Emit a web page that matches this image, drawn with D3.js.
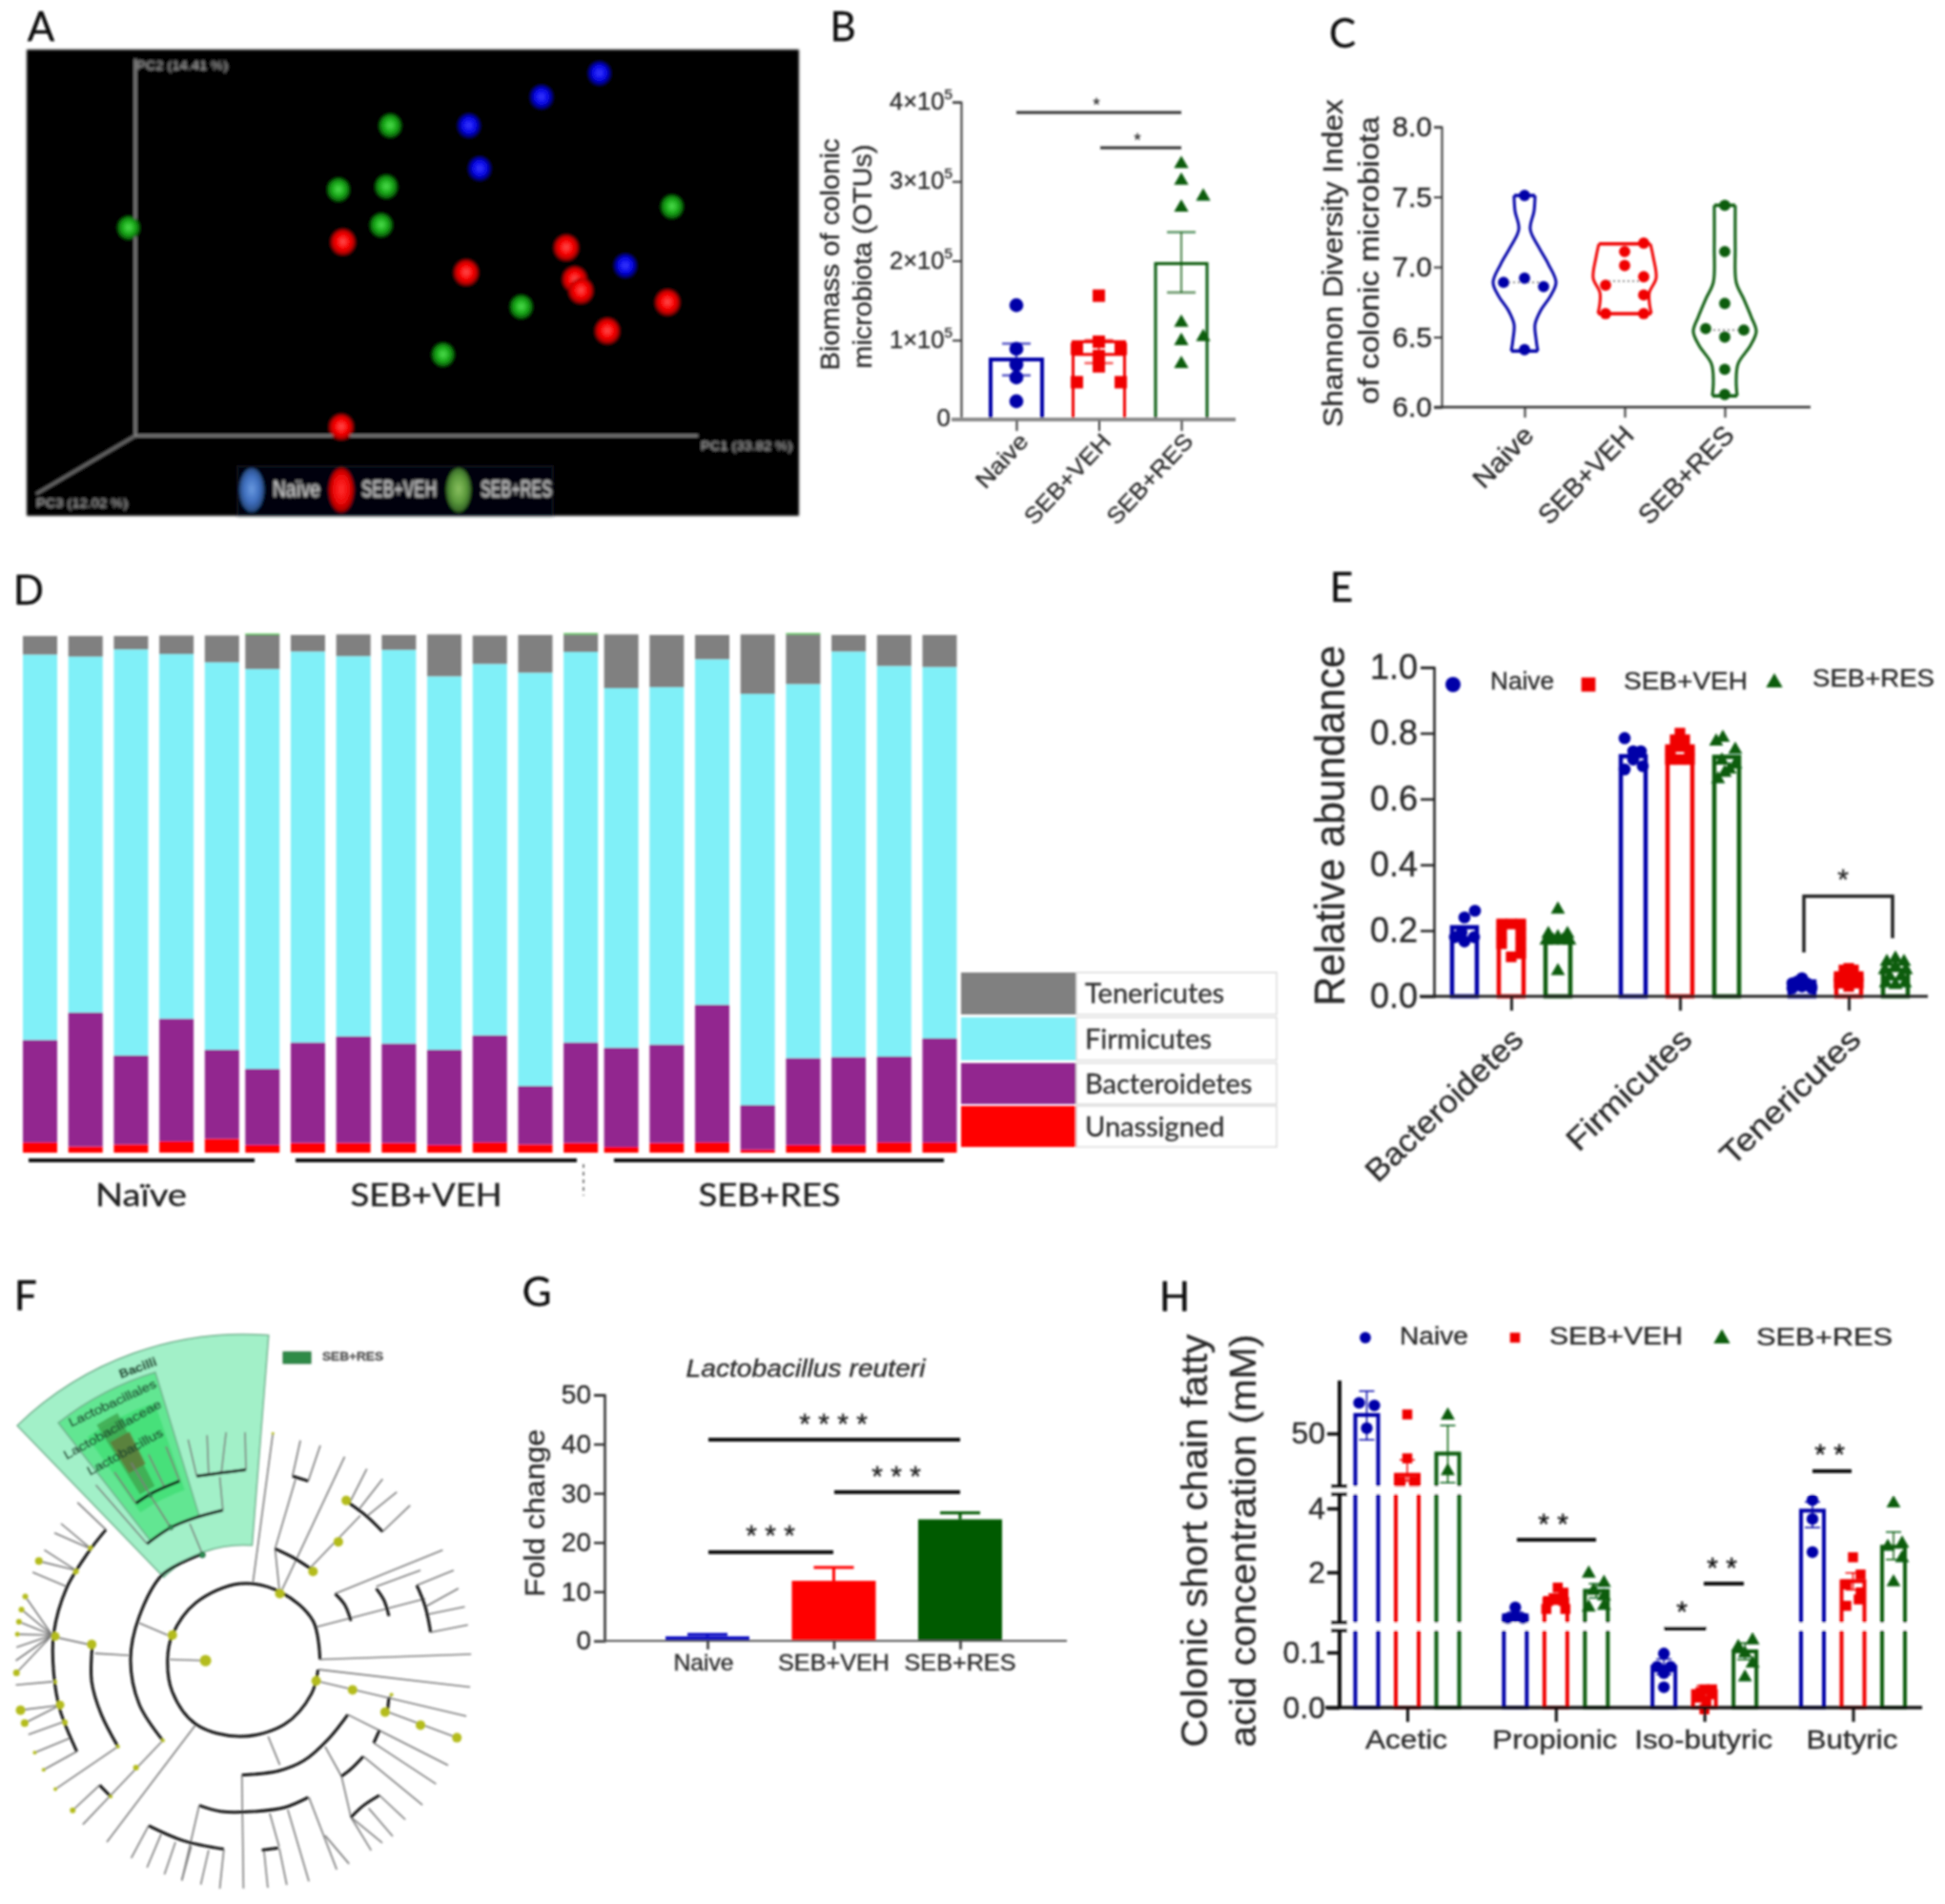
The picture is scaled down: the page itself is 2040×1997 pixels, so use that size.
<!DOCTYPE html>
<html><head><meta charset="utf-8">
<script src="https://d3js.org/d3.v7.min.js"></script>
<style>html,body{margin:0;padding:0;background:#fff}svg{display:block}text{font-family:"Liberation Sans",Arial,sans-serif;fill:#2b2b2b;stroke:#2b2b2b;stroke-width:.35px}</style>
</head><body><svg id="fig" width="2040" height="1997" xmlns="http://www.w3.org/2000/svg"></svg>
<script>
// ---------- shared ----------
const groups = ["Naive","SEB+VEH","SEB+RES"];
const groupColors = ["#0000a8","#f00000","#0b5d0f"];

// ---------- panel A: PCoA (axis percent units) ----------
const pcaBlue  = [[82.5,96.2],[72.2,89.9],[59.3,82.3],[61.2,70.9],[87.1,45.1]];
const pcaGreen = [[45.3,82.3],[36.1,65.3],[44.6,66.1],[43.7,55.9],[95.4,60.8],[-1.2,55.2],[68.6,34.2],[54.7,21.5]];
const pcaRed   = [[36.9,51.4],[76.6,49.9],[58.8,43.3],[78.1,41.5],[79.2,38.5],[94.6,35.4],[83.9,27.8],[36.6,2.3]];
const pcaLegend = ["Naïve","SEB+VEH","SEB+RES"];

// ---------- panel B ----------
const bMeans = [0.756,0.98,1.965];
const bErrs  = [[0.556,0.956],[0.71,1.0],[1.60,2.36]];
const bMid   = [0.756,0.82,1.965];
const bPoints = [
  [[0,1.44],[0,0.89],[0,0.69],[0,0.53],[0,0.23]],
  [[0,1.56],[0,0.98],[-23,0.89],[23,0.89],[0,0.80],[0,0.67],[23,0.47],[-23,0.47]],
  [[0,3.22],[0,3.01],[23,2.81],[0,2.67],[0,1.22],[23,1.04],[0,0.99],[0,0.70]]];

// ---------- panel C ----------
const cViolins = [
 [[7.51,11],[7.40,10],[7.27,6],[7.14,15],[7.02,25],[6.89,33],[6.79,27],[6.69,17],[6.59,11],[6.49,12],[6.40,14]],
 [[7.165,27],[7.07,30],[6.92,33],[6.82,26],[6.74,26],[6.667,28]],
 [[7.44,11],[7.14,11],[6.89,12],[6.77,20],[6.64,28],[6.54,33],[6.44,27],[6.31,14],[6.19,12],[6.08,13]]];
const cMedians = [6.89,6.90,6.55];
const cPoints = [
 [[0,7.51],[0,6.92],[-22,6.89],[20,6.86],[0,6.41]],
 [[20,7.17],[0,7.11],[0,7.01],[20,6.93],[-20,6.87],[20,6.80],[-20,6.667],[20,6.667]],
 [[0,7.44],[0,7.11],[0,6.74],[-20,6.56],[20,6.55],[0,6.50],[0,6.27],[0,6.09]]];

// ---------- panel D ----------
const taxa = ["Unassigned","Bacteroidetes","Firmicutes","Tenericutes","Trace"];
const taxaColors = ["#ff0000","#92278f","#80f0f8","#808080","#3fbf3f"];
const dSlots = [0,1,2,3,4,4.89,5.89,6.89,7.89,8.89,9.89,10.89,11.89,12.78,13.78,14.78,15.78,16.78,17.78,18.78,19.78];
const dUnassigned = [2.0,1.2,1.6,2.2,2.7,1.5,1.9,1.9,1.9,1.5,2.0,1.6,1.9,1.1,1.9,2.0,0.6,1.5,1.5,2.0,2.0];
const dBacteroidetes = [19.8,25.9,17.2,23.7,17.2,14.7,19.4,20.6,19.2,18.4,20.7,11.3,19.4,19.2,19.0,26.6,8.6,16.8,17.0,16.6,20.1];
const dFirmicutes = [74.4,68.7,78.4,70.4,74.8,77.2,75.5,73.4,76.0,72.1,71.7,79.8,75.4,69.4,69.0,66.7,79.4,72.2,78.3,75.4,71.7];
const dTenericutes = [3.6,4.0,2.6,3.6,5.2,6.6,3.2,4.2,2.9,8.1,5.5,7.3,3.4,10.4,10.1,4.7,11.5,9.6,3.2,6.0,6.2];
const dTrace = [0,0,0,0,0,0.25,0,0,0,0,0,0,0.25,0,0,0,0,0.25,0,0,0];
const dGroupLabels = ["Naïve","SEB+VEH","SEB+RES"];

// ---------- panel E ----------
const eCats = ["Bacteroidetes","Firmicutes","Tenericutes"];
const eMeans = [[0.21,0.224,0.178],[0.73,0.75,0.728],[0.045,0.063,0.08]];
const ePoints = [
 [[[11,.26],[0,.24],[-10,.18],[0,.167],[10,.18],[-3,.195]],
  [[-10,.22],[0,.22],[10,.22],[-10,.19],[10,.19],[-10,.16],[10,.16],[0,.12],[10,.13]],
  [[0,.264],[0,.077],[-10,.19],[0,.18],[10,.19],[-5,.17],[5,.17],[-12,.17],[12,.17]]],
 [[[-9,.785],[8,.745],[0,.745],[-9,.69],[10,.70],[0,.72]],
  [[0,.8],[-5,.78],[5,.78],[-10,.75],[10,.75],[0,.76],[-10,.72],[10,.72],[0,.72]],
  [[-4,.786],[-11,.775],[9,.75],[-5,.717],[9,.705],[-2,.68],[-9,.66],[3,.69]]],
 [[[0,.055],[-10,.04],[-5,.045],[5,.04],[10,.03],[0,.03],[-10,.025],[10,.025]],
  [[0,.085],[-5,.08],[5,.08],[-10,.06],[10,.06],[0,.06],[-10,.04],[10,.04],[0,.03]],
  [[0,.115],[-9,.105],[9,.105],[-11,.08],[0,.09],[11,.08],[-6,.06],[6,.06],[-10,.04],[10,.04],[0,.035]]]];

// ---------- panel F: cladogram, sketched in tree-space units ----------
const fWedges = [[120,341,-44,4.5,"#a2f0c8"],[158,315,-38,-17,"#62e692"],[188,285,-35,-19,"#46e07a"],[204,290,-32,-27,"#3fa850"],[229,267,-31.5,-26.5,"#5f7a38"]];
const fThick = [
 [[1012,965],[990,870],[890,800],[760,778],[620,825],[545,905],[530,965],[545,1045],[620,1125],[760,1155],[900,1125],[985,1050],[1006,990]],
 [[515,1165],[440,1075],[413,965],[440,860],[515,755],[640,705]],
 [[465,680],[540,640],[620,615],[705,597]],
 [[430,580],[480,555],[568,525]],
 [[622,513],[700,505],[778,497]],
 [[373,1180],[320,1100],[290,1020],[292,930]],
 [[335,645],[280,700],[210,790],[170,900],[170,1000],[190,1090],[243,1192]],
 [[870,692],[930,715],[980,740]],
 [[925,513],[975,525]],
 [[1105,580],[1160,612],[1210,650]],
 [[1060,803],[1090,830],[1110,870]],
 [[1190,790],[1215,820],[1230,858]],
 [[1318,782],[1345,835],[1362,898]],
 [[1100,1101],[1040,1160],[960,1215],[880,1240],[765,1250]],
 [[1182,1171],[1200,1140]],
 [[1080,1253],[1110,1235],[1149,1204]],
 [[1110,1354],[1150,1325],[1200,1300]],
 [[630,1325],[700,1340],[800,1340],[900,1330],[975,1305]],
 [[470,1375],[580,1412],[708,1433]],
 [[828,1435],[880,1430]],
 [[1230,1060],[1225,1095]],
 [[315,1275],[350,1303]]];
const fThin = [
 [537,965,650,968],[300,950,408,955],[440,875,530,905],[175,910,292,930],
 [165,905,80,810],[165,905,68,842],[165,905,60,872],[165,905,55,903],[165,905,52,935],[165,905,50,968],[165,905,52,998],
 [165,1020,50,1028],[190,1078,65,1090],[190,1078,78,1122],[205,1118,90,1150],[225,1158,110,1195],[243,1192,138,1237],
 [373,1180,175,1285],[515,1165,262,1372],[350,1303,315,1275],[315,1275,230,1337],[620,1125,338,1415],
 [470,1375,415,1455],[510,1395,465,1478],[555,1415,520,1495],[605,1425,575,1510],[660,1435,635,1520],[708,1433,695,1530],[630,1325,575,1510],
 [765,1250,770,1530],[835,1437,847,1528],[883,1430,907,1521],[853,1344,883,1427],[910,1335,977,1512],
 [977,1305,1065,1483],[1028,1399,1104,1469],[848,1155,885,1225],
 [1028,1180,1080,1253],[1149,1204,1336,1324],[1080,1253,1110,1354],[1110,1354,1209,1417],[1110,1354,1174,1436],[1166,1332,1242,1401],[1200,1300,1282,1360],
 [1100,1101,1200,1140],[1182,1171,1379,1272],[1200,1140,1417,1226],
 [1000,1018,1475,1105],[1228,1095,1445,1158],[1230,1060,1238,1052],[1008,990,1487,1033],[1012,965,1490,952],
 [1000,885,1345,815],[1318,782,1435,745],[1345,835,1450,790],[1345,855,1470,835],[1362,898,1480,880],
 [1060,803,1400,695],[1190,785,1330,745],
 [870,692,935,520],[925,513,950,425],[975,525,1013,437],[980,740,1140,610],[885,805,1090,465],[885,805,870,692],
 [1105,580,1160,495],[1130,600,1210,520],[1160,612,1255,552],[1210,650,1297,585],[800,775,863,408],
 [640,705,600,630],[540,640,475,560],[465,680,303,535],[705,597,695,515],[622,513,595,423],[660,510,655,412],[700,505,715,405],[778,497,775,405],
 [430,580,362,503],[475,560,415,480],[520,540,470,460],[568,525,525,440],
 [335,645,245,578],[285,690,193,630],[280,690,172,653],[240,745,140,695],[240,745,120,722],[210,785,103,750]];
const fNodes = [[650,968,6],[545,905,5],[290,928,5],[175,908,4.5],[80,810,3],[68,842,3],[60,872,3],[55,903,2.5],[52,998,3.5],
 [190,1077,4.5],[65,1090,5],[78,1122,4],[205,1120,3],[123,722,4],[240,748,3],[285,690,2.5],[175,1020,2],[373,1180,2],[515,1165,2],
 [430,1232,3],[350,1303,2],[230,1337,3],[138,1237,2],[110,1195,2],[175,1285,2],
 [885,803,5],[990,748,5],[1070,675,5],[1095,573,5],[1000,1018,5],[1115,1040,5],[1218,1095,5],[1330,1127,5],[1445,1158,5],[1238,1052,2],[863,408,1.5]];
const fGreenNodes = [[640,707,3],[540,640,2.5],[475,560,2]];
const fLabels = [["Bacilli",437,248,-20,41],["Lactobacillales",357,335,-25,100],["Lactobacillaceae",357,400,-29,115],["Lactobacillus",397,455,-28.6,89]];

// ---------- panel G ----------
const gMeans = [0.9,12.2,24.7];
const gTops  = [1.3,14.9,26];

// ---------- panel H ----------
const hCats = ["Acetic","Propionic","Iso-butyric","Butyric"];
const hMeans = [[53.5,42.2,46.2],[0.65,1.16,1.42],[0.074,0.03,0.102],[3.93,1.72,2.8]];
const hErrs = [[[48.8,58],[41,45],[40.7,51.5]],[[0.55,0.75],[1.0,1.32],[1.2,1.64]],[[0.06,0.088],[0.02,0.04],[0.087,0.117]],[[3.4,4.2],[1.45,1.98],[2.4,3.26]]];
const hPoints = [
 [[[-8,55.8],[8,55.3],[0,51]],[[0,53.6],[0,45.3],[-7,40.9],[7,40.9]],[[0,53.4],[0,42.9]]],
 [[[0,.9],[-8,.56],[8,.56],[0,.62]],[[2,1.52],[8,1.36],[-2,1.16],[-10,.85],[10,.85],[-8,1.1],[8,1.1]],[[-8,1.96],[8,1.67],[-3,1.42],[-8,.9],[8,.95],[8,1.25]]],
 [[[0,.098],[-7,.074],[7,.074],[0,.0625],[0,.037]],[[0,.033],[7,.024],[-7,.018],[2,.012],[0,-.003],[8,.033],[-4,.028]],[[8,.122],[-7,.11],[8,.08],[0,.055],[0,.098]]],
 [[[0,4.26],[0,3.67],[0,2.63]],[[0,2.47],[8,1.93],[-7,1.62],[8,1.37],[-7,.95],[6,1.15]],[[0,4.16],[0,1.69],[9,2.9],[-6,2.8],[9,2.44]]]];

// ---------- drawing ----------
const svg = d3.select("#fig");
const defs = svg.append("defs");
const soft = defs.append("filter").attr("id","soft").attr("filterUnits","userSpaceOnUse")
  .attr("x",0).attr("y",0).attr("width",2040).attr("height",1997);
soft.append("feGaussianBlur").attr("stdDeviation",0.85);
const soft2 = defs.append("filter").attr("id","soft2").attr("filterUnits","userSpaceOnUse")
  .attr("x",0).attr("y",0).attr("width",2040).attr("height",1997);
soft2.append("feGaussianBlur").attr("stdDeviation",1.0);
[["gBlue","#3a3aff","#0808e8","#00005a"],["gRed","#ff5050","#f80000","#8a0000"],["gGreen","#50e050","#18a818","#064a06"],
 ["lBlue","#6a9ae0","#3f6fbf","#20406f"],["lRed","#ff3030","#f00808","#900000"],["lGreen","#8ac060","#5c9a3c","#2a5a20"]].forEach(d=>{
  const g = defs.append("radialGradient").attr("id",d[0]).attr("cx","50%").attr("cy","48%").attr("r","55%");
  g.append("stop").attr("offset","0%").attr("stop-color",d[1]);
  g.append("stop").attr("offset","55%").attr("stop-color",d[2]);
  g.append("stop").attr("offset","100%").attr("stop-color",d[3]);
});
const root = svg.append("g").attr("filter","url(#soft)");

function txt(g,s,x,y,o={}){
  const t = g.append("text").text(s).attr("x",x).attr("y",y)
    .attr("font-size",o.size||24).attr("text-anchor",o.anchor||"middle").attr("dominant-baseline",o.base||"middle");
  if(o.rot!==undefined) t.attr("transform",`rotate(${o.rot} ${x} ${y})`);
  if(o.len) t.attr("textLength",o.len).attr("lengthAdjust","spacingAndGlyphs");
  if(o.font) t.style("font-family",o.font);
  if(o.fill) t.style("fill",o.fill).style("stroke",o.fill);
  if(o.weight) t.attr("font-weight",o.weight);
  if(o.italic) t.attr("font-style","italic");
  return t;
}
const seg=(g,x1,y1,x2,y2,c,w,dash)=>{const l=g.append("line").attr("x1",x1).attr("y1",y1).attr("x2",x2).attr("y2",y2).attr("stroke",c).attr("stroke-width",w); if(dash) l.attr("stroke-dasharray",dash); return l;};
const symT=[d3.symbolCircle,d3.symbolSquare,d3.symbolTriangle];
const sym=(i,a)=>d3.symbol().type(symT[i]).size(a)();
function yAxis(g,scale,vals,x,fmt,o={}){
  const ax=g.append("g").attr("transform",`translate(${x},0)`)
    .call(d3.axisLeft(scale).tickValues(vals).tickFormat(fmt).tickSize(o.tick||9).tickPadding(o.pad||4));
  ax.selectAll(".domain,.tick line").attr("stroke",o.color||"#222").attr("stroke-width",o.w||2.5);
  ax.selectAll("text").attr("font-size",o.size||26).style("font-family",'"Liberation Sans"').style("fill","#2b2b2b");
  return ax;
}
function xTicks(g,scale,y,o={}){
  const ax=g.append("g").attr("transform",`translate(0,${y})`)
    .call(d3.axisBottom(scale).tickSize(o.tick||10).tickFormat(""));
  ax.select(".domain").remove();
  ax.selectAll(".tick line").attr("stroke",o.color||"#222").attr("stroke-width",o.w||2.5);
}
const letters=[["A",43,32],["B",884,32],["C",1408,39],["D",30,623],["E",1407,620],["F",27,1363],["G",563,1359],["H",1232,1364]];
letters.forEach(d=>txt(root,d[0],d[1],d[2],{size:42,font:"Lato",fill:"#111"}));

// ----- A -----
(function(){
  const a=root.append("g").attr("filter","url(#soft2)");
  a.append("rect").attr("x",28).attr("y",52).attr("width",810).attr("height",489).attr("fill","#000");
  const x=d3.scaleLinear().domain([0,100]).range([142,732]);
  const y=d3.scaleLinear().domain([0,100]).range([457,62]);
  const axC="#8f8f8f";
  seg(a,x(0),y(0),x(0),y(100),axC,2); seg(a,x(0),y(0),x(100),y(0),axC,2); seg(a,x(0),y(0),38,518,axC,2);
  [["PC2 (14.41 %)",143,70,"start",96],["PC1 (33.82 %)",735,469,"start",96],["PC3 (12.02 %)",38,529,"start",96]].forEach(d=>
    txt(a,d[0],d[1],d[2],{size:12,anchor:d[3],len:d[4],fill:"#a8a8a8"}).style("stroke-width",0));
  const draw=(arr,grad,rr)=>a.append("g").selectAll("ellipse").data(arr).join("ellipse")
    .attr("cx",d=>x(d[0])).attr("cy",d=>y(d[1])).attr("rx",rr).attr("ry",rr*1.05).attr("fill",`url(#${grad})`);
  draw(pcaGreen,"gGreen",11.5); draw(pcaBlue,"gBlue",11.5); draw(pcaRed,"gRed",12.5);
  a.append("rect").attr("x",249).attr("y",489).attr("width",331).attr("height",52).attr("fill","#05060c").attr("stroke","#1c2230");
  const lx=[264,358,481], tx=[311,418.5,541.5], tl=[50,79,75], lg=["lBlue","lRed","lGreen"];
  pcaLegend.forEach((s,i)=>{
    a.append("ellipse").attr("cx",lx[i]).attr("cy",514).attr("rx",13).attr("ry",23).attr("fill",`url(#${lg[i]})`);
    txt(a,s,tx[i],515,{size:24,len:tl[i],fill:"#dcdcdc"}).style("stroke-width",0);
  });
})();

// ----- B -----
(function(){
  const g=root.append("g");
  const y=d3.scaleLinear().domain([0,4]).range([440,107]);
  const x=d3.scalePoint().domain(groups).range([1066,1239]);
  g.selectAll(".bar").data(groups).join("rect").attr("x",d=>x(d)-27).attr("width",54)
    .attr("y",(d,i)=>y(bMeans[i])).attr("height",(d,i)=>y(0)-y(bMeans[i])).attr("fill","none")
    .attr("stroke",(d,i)=>groupColors[i]).attr("stroke-width",(d,i)=>i==0?4:3);
  groups.forEach((c,i)=>{
    const cx=x(c), col=groupColors[i];
    seg(g,cx,y(bErrs[i][0]),cx,y(bErrs[i][1]),col,1.5);
    bErrs[i].forEach(v=>seg(g,cx-15,y(v),cx+15,y(v),col,2.5).attr("opacity",.65));
    seg(g,cx-27,y(bMid[i]),cx+27,y(bMid[i]),col,3);
    g.append("g").selectAll("path").data(bPoints[i]).join("path").attr("d",sym(i,i==0?170:(i==1?170:100)))
      .attr("transform",d=>`translate(${cx+d[0]},${y(d[1])})`).attr("fill",col);
  });
  yAxis(g,y,[0,1,2,3,4],1008,d=>"",{tick:9,color:"#333",w:2});
  [1,2,3,4].forEach(v=>{
    const t=txt(g,"",999,y(v)+1,{size:25,anchor:"end",len:66});
    t.append("tspan").text(v+"×10");
    t.append("tspan").text("5").attr("dy",-8).attr("font-size",15);
  });
  txt(g,"0",997,y(0),{size:26,anchor:"end"});
  seg(g,998,440,1296,440,"#8a8a8a",4);
  xTicks(g,x,441,{tick:11,color:"#333",w:2});
  groups.forEach(c=>txt(g,c,x(c)+1,452,{size:24,anchor:"end",rot:-47,base:"hanging",len:c=="Naive"?68:120}));
  txt(g,"Biomass of colonic",873,267,{size:27,rot:-90,len:243});
  txt(g,"microbiota (OTUs)",907,269,{size:27,rot:-90,len:235});
  seg(g,1066,118,1239,118,"#333",3); seg(g,1154,155,1239,155,"#333",3);
  txt(g,"*",1150,111,{size:18}); txt(g,"*",1193,148,{size:18});
})();

// ----- C -----
(function(){
  const g=root.append("g");
  const y=d3.scaleLinear().domain([6,8]).range([427,133]);
  const x=d3.scalePoint().domain(groups).range([1599,1809]);
  const w=d3.scaleLinear().domain([0,40]).range([0,40]);
  groups.forEach((c,i)=>{
    const cx=x(c), col=groupColors[i];
    const pts=cViolins[i];
    const left=d3.line().x(d=>cx-w(d[1])).y(d=>y(d[0])).curve(d3.curveCatmullRom);
    const right=d3.line().x(d=>cx+w(d[1])).y(d=>y(d[0])).curve(d3.curveCatmullRom);
    [left,right].forEach(l=>g.append("path").datum(pts).attr("d",l).attr("fill","none").attr("stroke",col).attr("stroke-width",3));
    [pts[0],pts[pts.length-1]].forEach(p=>seg(g,cx-w(p[1]),y(p[0]),cx+w(p[1]),y(p[0]),col,3.5));
    seg(g,cx-22,y(cMedians[i]),cx+22,y(cMedians[i]),"#666",1.5,"2 3");
    g.append("g").selectAll("path").data(cPoints[i]).join("path").attr("d",sym(0,110))
      .attr("transform",d=>`translate(${cx+d[0]},${y(d[1])})`).attr("fill",col);
  });
  yAxis(g,y,[6,6.5,7,7.5,8],1512,d3.format(".1f"),{tick:8,size:30,pad:2,color:"#333",w:2});
  seg(g,1504,427,1899,427,"#333",2.5);
  xTicks(g,x,428,{tick:10,color:"#333",w:2});
  groups.forEach(c=>txt(g,c,x(c)-3,444,{size:28,anchor:"end",rot:-46,base:"hanging",len:c=="Naive"?78:130}));
  txt(g,"Shannon Diversity Index",1400,276,{size:30,rot:-90,len:344});
  txt(g,"of colonic microbiota",1438,273,{size:30,rot:-90,len:302});
})();

// ----- D -----
(function(){
  const g=root.append("g");
  const y=d3.scaleLinear().domain([0,100]).range([1209,666]);
  const x=d3.scaleLinear().domain([0,1]).range([24,71.7]);
  const rows=dSlots.map((s,i)=>({slot:s,Unassigned:dUnassigned[i],Bacteroidetes:dBacteroidetes[i],Firmicutes:dFirmicutes[i],Tenericutes:dTenericutes[i],Trace:dTrace[i]}));
  const stack=d3.stack().keys(taxa)(rows);
  g.selectAll("g.s").data(stack).join("g").attr("fill",(d,i)=>taxaColors[i]).selectAll("rect").data(d=>d).join("rect")
    .attr("x",d=>x(d.data.slot)).attr("width",36).attr("y",d=>y(d[1])).attr("height",d=>Math.max(0,y(d[0])-y(d[1])));
  [[30,267],[310,605],[644,990]].forEach((d,i)=>{
    seg(g,d[0],1217,d[1],1217,"#111",4);
    txt(g,dGroupLabels[i],[148,447,807][i],1257,{size:33,font:"Lato",fill:"#222",len:[96,159,149][i]});
  });
  seg(g,612,1221,612,1254,"#555",1.5,"4 4");
  const lg=[["Tenericutes",3],["Firmicutes",2],["Bacteroidetes",1],["Unassigned",0]];
  const ry=[1020,1067,1115,1160], rh=[44,45,43,43];
  lg.forEach((d,i)=>{
    g.append("rect").attr("x",1008).attr("y",ry[i]).attr("width",121).attr("height",rh[i]).attr("fill",taxaColors[d[1]]);
    g.append("rect").attr("x",1129).attr("y",ry[i]).attr("width",210).attr("height",rh[i]).attr("fill","none").attr("stroke","#dcdcdc").attr("stroke-width",1.5);
    txt(g,d[0],1138,ry[i]+rh[i]/2+3,{size:29,anchor:"start",font:"Lato",fill:"#333"});
  });
})();

// ----- E -----
(function(){
  const g=root.append("g");
  const y=d3.scaleLinear().domain([0,1]).range([1045,700]);
  const x=d3.scalePoint().domain(eCats).range([1585,1939]);
  const o=d3.scalePoint().domain(groups).range([-49,49]);
  eCats.forEach((c,k)=>groups.forEach((s,i)=>{
    const cx=x(c)+o(s), col=groupColors[i];
    g.append("rect").datum(eMeans[k][i]).attr("x",cx-13).attr("width",26).attr("y",d=>y(d)).attr("height",d=>y(0)-y(d))
      .attr("fill","none").attr("stroke",col).attr("stroke-width",4.5);
    g.append("g").selectAll("path").data(ePoints[k][i]).join("path").attr("d",sym(i,i==2?95:125))
      .attr("transform",d=>`translate(${cx+d[0]},${y(d[1])})`).attr("fill",col);
  }));
  yAxis(g,y,[0,.2,.4,.6,.8,1],1504,d3.format(".1f"),{tick:14,size:36,pad:3,w:2.5});
  seg(g,1489,1045,2022,1045,"#222",3);
  xTicks(g,x,1046,{tick:14,w:3});
  eCats.forEach(c=>txt(g,c,x(c)-2,1075,{size:33,anchor:"end",rot:-44,base:"hanging",len:c=="Bacteroidetes"?215:(c=="Firmicutes"?168:190)}));
  txt(g,"Relative abundance",1398,866,{size:44,rot:-90,len:378});
  [[1524,718,1563,716,67],[1666,718,1703,716,130],[1861,716,1901,713,128]].forEach((d,i)=>{
    g.append("path").attr("d",sym(i,i==0?200:(i==1?220:130))).attr("transform",`translate(${d[0]},${d[1]})`).attr("fill",groupColors[i]);
    txt(g,groups[i],d[2],d[3],{size:25,anchor:"start",len:d[4]});
  });
  g.append("path").attr("d",d3.line()([[1892,999],[1892,940],[1985,940],[1985,984]])).attr("fill","none").attr("stroke","#222").attr("stroke-width",3.5);
  txt(g,"*",1933,924,{size:30});
})();

// ----- F -----
(function(){
  const g=root.append("g");
  const sx=d3.scaleLinear().domain([0,1568]).range([0,520]);
  const sy=d3.scaleLinear().domain([0,1568]).range([1330,1997]);
  const c=g.append("g").attr("transform",`translate(255,1740.5)`);
  const rad=d3.scaleLinear().domain([-360,360]).range([-2*Math.PI,2*Math.PI]);
  const arc=d3.arc();
  c.selectAll("path").data(fWedges).join("path").attr("d",d=>arc({innerRadius:d[0],outerRadius:d[1],startAngle:rad(d[2]),endAngle:rad(d[3])}))
    .attr("fill",d=>d[4]).attr("fill-opacity",(d,i)=>i>2?.85:1).attr("stroke",(d,i)=>i<2?"#6fb08c":"none").attr("stroke-width",1.5);
  g.append("g").selectAll("line").data(fThin).join("line")
    .attr("x1",d=>sx(d[0])).attr("y1",d=>sy(d[1])).attr("x2",d=>sx(d[2])).attr("y2",d=>sy(d[3]))
    .attr("stroke","#7a7a7a").attr("stroke-width",1.6);
  const line=d3.line().x(d=>sx(d[0])).y(d=>sy(d[1])).curve(d3.curveCatmullRom);
  g.append("g").selectAll("path").data(fThick).join("path").attr("d",line).attr("fill","none").attr("stroke","#111").attr("stroke-width",3);
  g.append("g").selectAll("circle").data(fNodes).join("circle")
    .attr("cx",d=>sx(d[0])).attr("cy",d=>sy(d[1])).attr("r",d=>d[2]).attr("fill","#b4bc1c");
  g.append("g").selectAll("circle").data(fGreenNodes).join("circle")
    .attr("cx",d=>sx(d[0])).attr("cy",d=>sy(d[1])).attr("r",d=>d[2]).attr("fill","#2f8f55").attr("stroke","#1b5a35");
  fLabels.forEach(d=>txt(g,d[0],sx(d[1]),sy(d[2]),{size:13,rot:d[3],len:d[4],fill:"#1e4a30",weight:d[0]=="Bacilli"?"bold":"normal"}));
  g.append("rect").attr("x",297).attr("y",1418).attr("width",29).attr("height",12).attr("fill","#2e8b47").attr("stroke","#1f6a33");
  txt(g,"SEB+RES",338,1424,{size:12,anchor:"start",len:64,fill:"#555",weight:"bold"});
})();

// ----- G -----
(function(){
  const g=root.append("g");
  const y=d3.scaleLinear().domain([0,50]).range([1721,1463]);
  const x=d3.scalePoint().domain(groups).range([742,1007]);
  const col=["#0000c0","#ff0000","#045a04"];
  groups.forEach((c,i)=>{
    const cx=x(c);
    seg(g,cx,y(gMeans[i]),cx,y(gTops[i]),col[i],3);
    seg(g,cx-21,y(gTops[i]),cx+21,y(gTops[i]),col[i],3);
    g.append("rect").datum(gMeans[i]).attr("x",cx-44).attr("width",88).attr("y",d=>y(d)).attr("height",d=>y(0)-y(d)).attr("fill",col[i]);
  });
  yAxis(g,y,[0,10,20,30,40,50],634,d3.format("d"),{tick:11,size:28,pad:3,color:"#333",w:2.5});
  seg(g,623,1721,1119,1721,"#555",2);
  xTicks(g,x,1721,{tick:9,w:2.5,color:"#333"});
  groups.forEach(c=>txt(g,c,x(c)-(c=="Naive"?4:0),1746,{size:24,len:c=="Naive"?63:117}));
  txt(g,"Lactobacillus reuteri",845,1437,{size:26,italic:true,len:251});
  txt(g,"Fold change",563,1587,{size:30,rot:-90,len:176});
  [[743,1007,1510,"* * * *",874,1495],[875,1007,1565,"* * *",940,1550],[743,874,1628,"* * *",808,1612]].forEach(d=>{
    seg(g,d[0],d[2],d[1],d[2],"#111",4);
    txt(g,d[3],d[4],d[5],{size:30,fill:"#222"});
  });
})();

// ----- H -----
(function(){
  const g=root.append("g");
  const y=d3.scaleLinear().domain([0,.14,.42,4.45,40,60]).range([1791,1710,1702,1567,1559,1448]);
  const x=d3.scalePoint().domain(hCats).range([1476,1943.5]);
  const o=d3.scalePoint().domain(groups).range([-42.5,42.5]);
  hCats.forEach((c,k)=>groups.forEach((s,i)=>{
    const cx=x(c)+o(s), col=groupColors[i];
    g.append("rect").datum(hMeans[k][i]).attr("x",cx-12).attr("width",24).attr("y",d=>y(d)).attr("height",d=>y(0)-y(d))
      .attr("fill","none").attr("stroke",col).attr("stroke-width",4);
  }));
  [1559,1702].forEach(t=>g.append("rect").attr("x",1385).attr("y",t).attr("width",640).attr("height",8).attr("fill","#fff"));
  hCats.forEach((c,k)=>groups.forEach((s,i)=>{
    const cx=x(c)+o(s), col=groupColors[i];
    seg(g,cx,y(hErrs[k][i][0]),cx,y(hErrs[k][i][1]),col,1.5);
    hErrs[k][i].forEach(v=>seg(g,cx-8,y(v),cx+8,y(v),col,1.5));
    g.append("g").selectAll("path").data(hPoints[k][i]).join("path").attr("d",sym(i,i==0?120:(i==1?110:95)))
      .attr("transform",d=>`translate(${cx+d[0]},${y(Math.max(d[1],-.003))})`).attr("fill",col);
  }));
  const fmt=d=>d<1?d3.format(".1f")(d):String(d);
  const ax=yAxis(g,y,[0,.1,2,4,50],1405,fmt,{tick:13,size:32,pad:2,color:"#111",w:3.5});
  ax.select(".domain").remove();
  [[0,.14],[.42,4.45],[40,60]].forEach(d=>{
    seg(g,1405,y(d[0]),1405,y(d[1]),"#111",4);
    [d[0],d[1]].forEach(v=>{ if(v>0&&v<60) seg(g,1396,y(v),1413,y(v),"#111",3.5); });
  });
  seg(g,1390,1791,2016,1791,"#111",3.5);
  xTicks(g,x,1792,{tick:14,w:3,color:"#111"});
  hCats.forEach((c,k)=>txt(g,c,x(c)-1,1827,{size:28,len:[86,131,145,96][k]}));
  txt(g,"Colonic short chain fatty",1256,1616,{size:38,rot:-90,len:433});
  txt(g,"acid concentration (mM)",1307,1616,{size:38,rot:-90,len:433});
  [[1432,1403,1468,72],[1589,1403,1625,140],[1806,1404,1842,143]].forEach((d,i)=>{
    g.append("path").attr("d",sym(i,i==0?110:(i==1?110:130))).attr("transform",`translate(${d[0]},${d[1]})`).attr("fill",groupColors[i]);
    txt(g,groups[i],d[2],d[1],{size:26,anchor:"start",len:d[3]});
  });
  [[1591,1674,1615,"* *",1629,1600],[1745,1790,1708,"*",1764,1692],[1787,1829,1661,"* *",1806,1646],[1901,1942,1543,"* *",1919,1527]].forEach(d=>{
    seg(g,d[0],d[2],d[1],d[2],"#111",4);
    txt(g,d[3],d[4],d[5],{size:30,fill:"#111"});
  });
})();
</script></body></html>
